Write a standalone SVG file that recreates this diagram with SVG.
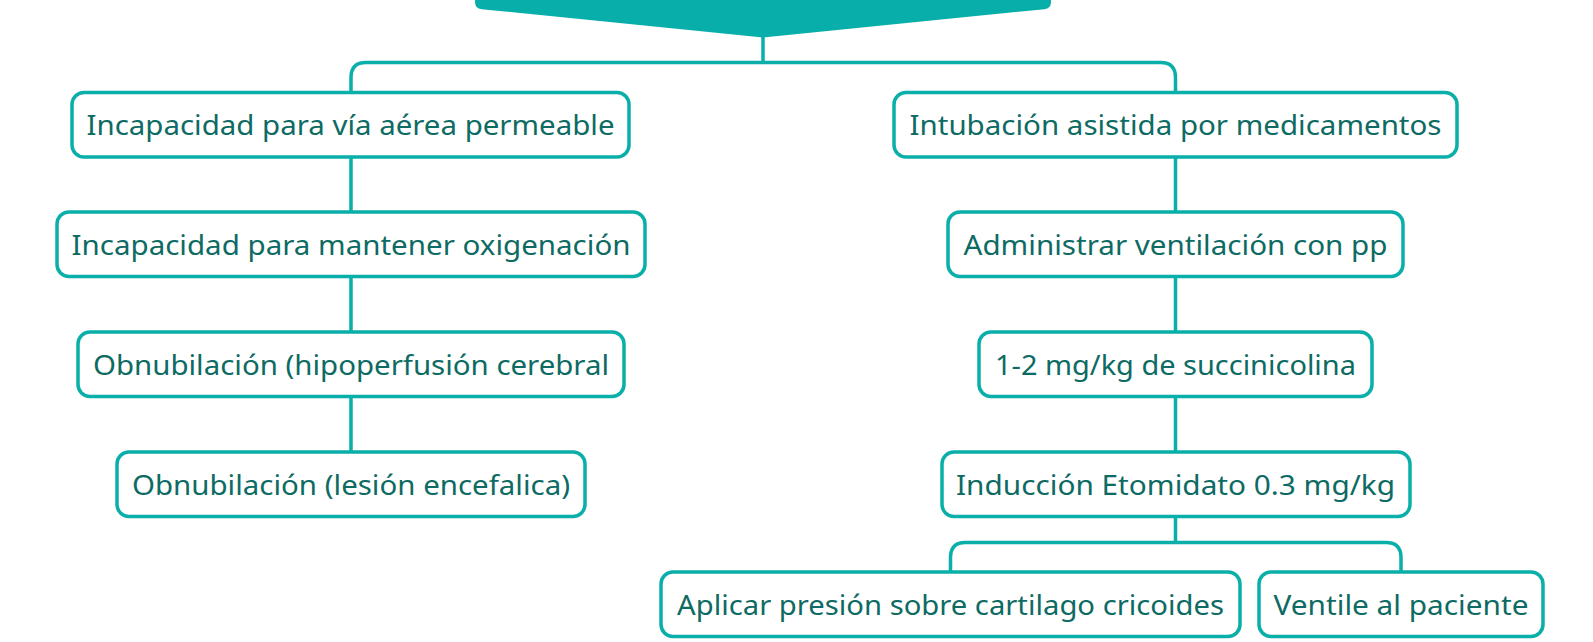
<svg xmlns="http://www.w3.org/2000/svg" width="1593" height="642" viewBox="0 0 1593 642">
<style>
.box{fill:#ffffff;stroke:#0aafa9;stroke-width:3.5}
.ln{fill:none;stroke:#0aafa9;stroke-width:3.5}
.t{font-family:"Noto Sans","Open Sans",sans-serif;font-size:26.5px;fill:#0d6b63;text-anchor:middle}
</style>
<rect width="1593" height="642" fill="#ffffff"/>
<g id="banner">
<path d="M475,-10 L1051,-10 L1051,2 Q1051,8.5 1044.5,9.2 L763,37.5 L481.5,9.2 Q475,8.5 475,2 Z" fill="#08afaa"/>
</g>
<g id="connectors">
<path class="ln" d="M763,37 V62.5"/>
<path class="ln" d="M351,92 V77.5 Q351,62.5 366,62.5 H1160.5 Q1175.5,62.5 1175.5,77.5 V92"/>
<path class="ln" d="M351,157 V212 M351,276 V332 M351,396 V452"/>
<path class="ln" d="M1175.5,157 V212 M1175.5,276 V332 M1175.5,396 V452 M1175.5,516 V542.5"/>
<path class="ln" d="M950.5,572 V557.5 Q950.5,542.5 965.5,542.5 H1386 Q1401,542.5 1401,557.5 V572"/>
</g>
<g id="n-l1"><rect class="box" x="72" y="92.5" width="557" height="64.5" rx="12"/><text class="t" x="350.5" y="134.5" textLength="528" lengthAdjust="spacingAndGlyphs">Incapacidad para vía aérea permeable</text></g>
<g id="n-l2"><rect class="box" x="57" y="212" width="588" height="64.5" rx="12"/><text class="t" x="351" y="254.5" textLength="559" lengthAdjust="spacingAndGlyphs">Incapacidad para mantener oxigenación</text></g>
<g id="n-l3"><rect class="box" x="78" y="332" width="546" height="64.5" rx="12"/><text class="t" x="351" y="374.5" textLength="516" lengthAdjust="spacingAndGlyphs">Obnubilación (hipoperfusión cerebral</text></g>
<g id="n-l4"><rect class="box" x="117" y="452" width="468" height="64.5" rx="12"/><text class="t" x="351" y="494.5" textLength="438" lengthAdjust="spacingAndGlyphs">Obnubilación (lesión encefalica)</text></g>
<g id="n-r1"><rect class="box" x="894" y="92.5" width="563" height="64.5" rx="12"/><text class="t" x="1175.5" y="134.5" textLength="532" lengthAdjust="spacingAndGlyphs">Intubación asistida por medicamentos</text></g>
<g id="n-r2"><rect class="box" x="948" y="212" width="455" height="64.5" rx="12"/><text class="t" x="1175.5" y="254.5" textLength="424" lengthAdjust="spacingAndGlyphs">Administrar ventilación con pp</text></g>
<g id="n-r3"><rect class="box" x="979" y="332" width="393" height="64.5" rx="12"/><text class="t" x="1175.5" y="374.5" textLength="361" lengthAdjust="spacingAndGlyphs">1-2 mg/kg de succinicolina</text></g>
<g id="n-r4"><rect class="box" x="942" y="452" width="468" height="64.5" rx="12"/><text class="t" x="1175.5" y="494.5" textLength="439" lengthAdjust="spacingAndGlyphs">Inducción Etomidato 0.3 mg/kg</text></g>
<g id="n-b1"><rect class="box" x="661" y="572" width="579" height="64.5" rx="12"/><text class="t" x="950.5" y="614.5" textLength="547" lengthAdjust="spacingAndGlyphs">Aplicar presión sobre cartilago cricoides</text></g>
<g id="n-b2"><rect class="box" x="1259" y="572" width="284" height="64.5" rx="12"/><text class="t" x="1401" y="614.5" textLength="255" lengthAdjust="spacingAndGlyphs">Ventile al paciente</text></g>
</svg>
